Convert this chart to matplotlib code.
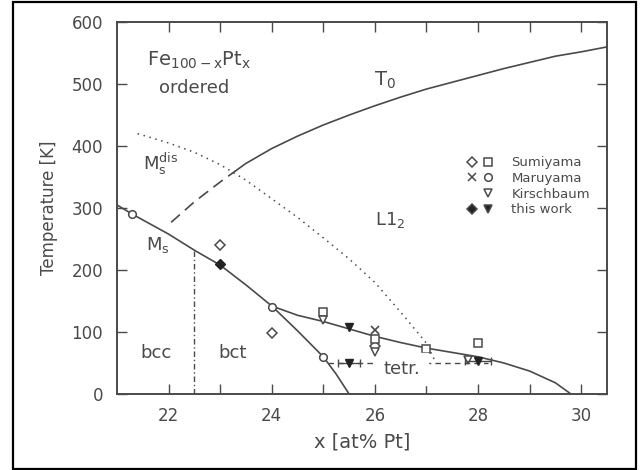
import numpy as np
import matplotlib
matplotlib.use("Agg")
import matplotlib.pyplot as plt
from matplotlib.lines import Line2D
from matplotlib.patches import Rectangle
from matplotlib.legend_handler import HandlerTuple

plt.rcParams['font.family'] = ['DejaVu Sans']
plt.rcParams['mathtext.fontset'] = 'dejavusans'
plt.rcParams['mathtext.default'] = 'regular'

grey = '#4a4a4a'

# phase boundary curves
ms_x = [21.0, 21.3, 22.0, 22.5, 23.0, 23.5, 24.0, 24.5, 25.0, 25.25, 25.5]
ms_y = [305, 290, 258, 232, 208, 176, 142, 102, 60, 32, 0]

tetr_x = [24.0, 24.5, 25.0, 25.5, 26.0, 26.5, 27.0, 27.5, 28.0, 28.5, 29.0, 29.5, 29.8]
tetr_y = [142, 127, 117, 105, 93, 83, 74, 67, 60, 50, 37, 18, 0]

msdis_x = [21.4, 22.0, 22.5, 23.0, 23.5, 24.0, 24.5, 25.0, 25.5, 26.0, 26.5, 27.0, 27.15]
msdis_y = [420, 405, 390, 370, 345, 315, 285, 252, 218, 180, 132, 82, 56]

t0_dash_x = [22.05, 22.5, 23.0, 23.3]
t0_dash_y = [277, 310, 342, 360]
t0_x = [23.3, 23.5, 24.0, 24.5, 25.0, 25.5, 26.0, 26.5, 27.0, 27.5, 28.0, 28.5, 29.0, 29.5, 30.0, 30.5]
t0_y = [360, 372, 396, 416, 434, 450, 465, 479, 492, 503, 514, 525, 535, 545, 552, 560]

bcc_bct_x = 22.5
bcc_bct_top = 230
tetr_line_x = [25.1, 28.2]
tetr_line_y = [50, 50]

# measured points
sumi_diam_x = [23.0, 24.0, 26.0]
sumi_diam_y = [240, 98, 77]
sumi_sq_x = [25.0, 26.0, 27.0, 28.0]
sumi_sq_y = [133, 88, 72, 82]
maru_x_x = [26.0]
maru_x_y = [103]
maru_circ_x = [21.3, 24.0, 25.0]
maru_circ_y = [290, 140, 60]
kirsch_x = [25.0, 26.0, 27.8]
kirsch_y = [120, 68, 55]
this_diam_x = [23.0]
this_diam_y = [210]
this_tri_x = [25.5, 25.5, 28.0]
this_tri_y = [108, 50, 53]
this_tri_xerr = [0.0, 0.22, 0.25]

fig = plt.figure(figsize=(6.41, 4.70), dpi=100)
ax = fig.add_axes([0.1825, 0.1617, 0.7645, 0.7913])

lw = 1.2
ax.plot(ms_x, ms_y, color=grey, lw=lw)
ax.plot(tetr_x, tetr_y, color=grey, lw=lw)
ax.plot(msdis_x, msdis_y, color=grey, lw=1.1, linestyle=(0, (1, 3)))
ax.plot(t0_dash_x, t0_dash_y, color=grey, lw=lw, linestyle=(0, (7, 4)))
ax.plot(t0_x, t0_y, color=grey, lw=lw)
ax.plot([bcc_bct_x, bcc_bct_x], [0, bcc_bct_top], color=grey, lw=1.0,
        linestyle=(0, (4, 2, 1, 2)))
ax.plot(tetr_line_x, tetr_line_y, color=grey, lw=1.0, linestyle=(0, (4, 3)))

ms = 6
ax.plot(sumi_diam_x, sumi_diam_y, 'D', ms=5, mfc='white', mec=grey, mew=1.1, ls='none')
ax.plot(sumi_sq_x, sumi_sq_y, 's', ms=ms, mfc='white', mec=grey, mew=1.1, ls='none')
ax.plot(maru_x_x, maru_x_y, 'x', ms=ms, mec=grey, mew=1.2, ls='none')
ax.plot(maru_circ_x, maru_circ_y, 'o', ms=5.5, mfc='white', mec=grey, mew=1.1, ls='none')
ax.plot(kirsch_x, kirsch_y, 'v', ms=ms, mfc='white', mec=grey, mew=1.1, ls='none')
ax.plot(this_diam_x, this_diam_y, 'D', ms=5.5, mfc='#222222', mec='#222222', ls='none')
ax.errorbar(this_tri_x, this_tri_y, xerr=this_tri_xerr, fmt='v', ms=ms,
            mfc='#222222', mec='#222222', ecolor=grey, elinewidth=1.0,
            capsize=3, capthick=1.0)

tk = dict(color=grey, fontsize=13, ha='center', va='center')
ax.text(22.6, 539, r'Fe$_{100-x}$Pt$_x$', color=grey, fontsize=14, ha='center', va='center')
ax.text(22.5, 494, 'ordered', **tk)
ax.text(26.2, 506, r'T$_0$', color=grey, fontsize=14, ha='center', va='center')
ax.text(21.85, 372, r'M$_s^{dis}$', **tk)
ax.text(21.8, 240, r'M$_s$', **tk)
ax.text(26.3, 281, r'L1$_2$', **tk)
ax.text(21.75, 66, 'bcc', **tk)
ax.text(23.24, 66, 'bct', **tk)
ax.text(26.53, 40, 'tetr.', backgroundcolor='white', **tk)

# legend
def mk(marker, filled=False, size=6):
    fc = '#222222' if filled else 'white'
    return Line2D([], [], marker=marker, ls='none', ms=size, mfc=fc, mec=grey, mew=1.1)

blank = Line2D([], [], ls='none')
handles = [(mk('D', size=5), mk('s')), (mk('x'), mk('o', size=5.5)),
           (blank, mk('v')), (mk('D', True, 5.5), mk('v', True))]
labels = ['Sumiyama', 'Maruyama', 'Kirschbaum', 'this work']
leg = ax.legend(handles, labels, handler_map={tuple: HandlerTuple(ndivide=None, pad=0.3)},
                loc='upper left', bbox_to_anchor=(0.7, 0.653), frameon=False,
                fontsize=9.5, labelspacing=0.2, handlelength=2.2, handletextpad=1.3,
                borderaxespad=0)
for t in leg.get_texts():
    t.set_color(grey)

ax.set_xlim(21.0, 30.5)
ax.set_ylim(0, 600)
ax.set_xticks([22, 24, 26, 28, 30])
ax.set_xticks([23, 25, 27, 29], minor=True)
ax.set_yticks(np.arange(0, 601, 100))
ax.tick_params(which='both', direction='in', top=True, right=True, length=7,
               width=1.0, color=grey, labelcolor=grey, labelsize=12)
ax.tick_params(axis='x', pad=9)
ax.tick_params(axis='y', pad=10)
for s in ax.spines.values():
    s.set_color(grey)
    s.set_linewidth(1.4)

ax.set_xlabel('x [at% Pt]', fontsize=14, color=grey, labelpad=6)
ax.set_ylabel('Temperature [K]', fontsize=12, color=grey, labelpad=10)

fig.patches.append(Rectangle((13 / 641, 1 / 470), 623 / 641, 467 / 470,
                             transform=fig.transFigure, fill=False,
                             edgecolor='black', linewidth=1.6))

fig.savefig('out.png', dpi=100)
